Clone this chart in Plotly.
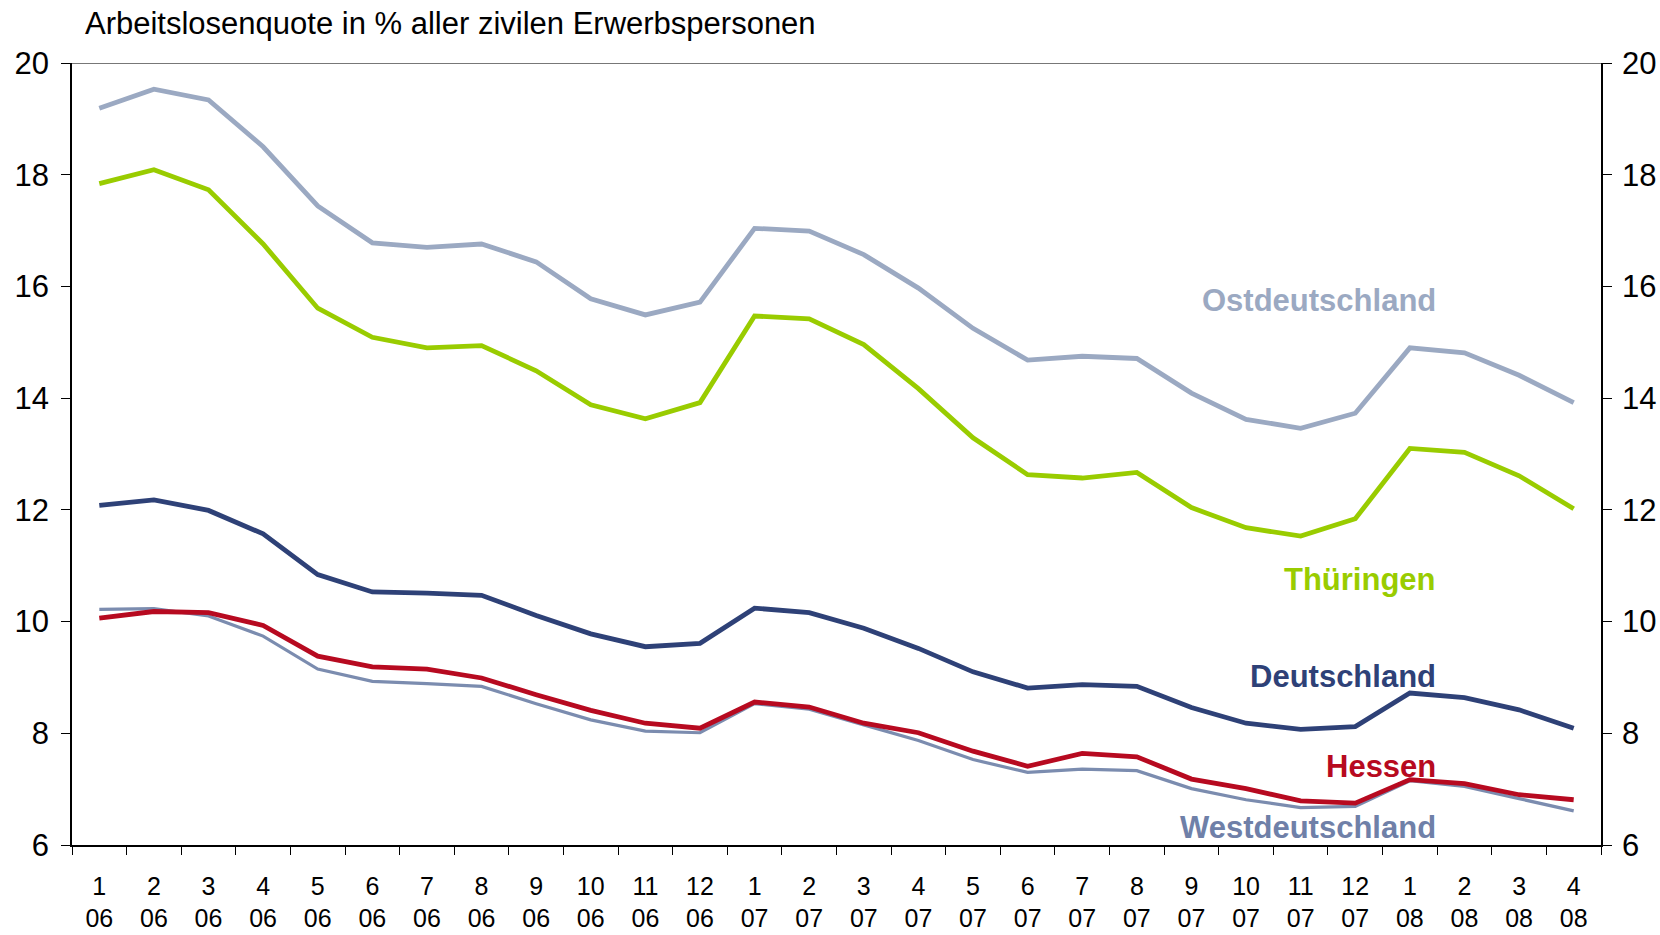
import plotly.graph_objects as go

months = [1, 2, 3, 4, 5, 6, 7, 8, 9, 10, 11, 12,
          1, 2, 3, 4, 5, 6, 7, 8, 9, 10, 11, 12,
          1, 2, 3, 4]
years = ["06"] * 12 + ["07"] * 12 + ["08"] * 4
labels = [f"{m}<br>{y}" for m, y in zip(months, years)]

ostdeutschland = [19.19, 19.53, 19.34, 18.50, 17.44, 16.78, 16.70, 16.76, 16.44, 15.78,
                  15.49, 15.72, 17.04, 16.99, 16.57, 15.97, 15.25, 14.68, 14.75, 14.71,
                  14.09, 13.62, 13.46, 13.73, 14.90, 14.81, 14.41, 13.92]
thueringen = [17.84, 18.09, 17.73, 16.76, 15.61, 15.09, 14.90, 14.94, 14.49, 13.88,
              13.63, 13.92, 15.47, 15.42, 14.96, 14.17, 13.29, 12.63, 12.57, 12.67,
              12.04, 11.68, 11.53, 11.84, 13.10, 13.03, 12.61, 12.02]
deutschland = [12.08, 12.18, 11.99, 11.57, 10.84, 10.53, 10.51, 10.47, 10.11, 9.78,
               9.55, 9.61, 10.24, 10.16, 9.88, 9.52, 9.10, 8.81, 8.87, 8.84,
               8.46, 8.18, 8.07, 8.12, 8.72, 8.64, 8.42, 8.09]
hessen = [10.06, 10.18, 10.16, 9.93, 9.38, 9.19, 9.15, 8.99, 8.69, 8.41,
          8.18, 8.09, 8.56, 8.47, 8.18, 8.01, 7.68, 7.41, 7.64, 7.58,
          7.18, 7.01, 6.79, 6.75, 7.17, 7.10, 6.90, 6.81]
westdeutschland = [10.22, 10.23, 10.10, 9.74, 9.15, 8.93, 8.89, 8.84, 8.53, 8.24,
                   8.04, 8.01, 8.53, 8.43, 8.15, 7.87, 7.53, 7.30, 7.36, 7.33,
                   7.01, 6.81, 6.67, 6.69, 7.15, 7.05, 6.83, 6.61]

y_ticks = [6, 8, 10, 12, 14, 16, 18, 20]

series = [
    ("Westdeutschland", westdeutschland, "#7B8CAF", 3.2),
    ("Hessen", hessen, "#B70A20", 4.8),
    ("Deutschland", deutschland, "#2E4177", 4.8),
    ("Thüringen", thueringen, "#99CC00", 4.8),
    ("Ostdeutschland", ostdeutschland, "#9BA9C2", 4.8),
]

label_pos = {
    "Ostdeutschland": (15.75, "#9BA9C2"),
    "Thüringen": (10.75, "#99CC00"),
    "Deutschland": (9.02, "#2E4177"),
    "Hessen": (7.40, "#B70A20"),
    "Westdeutschland": (6.31, "#6F80A8"),
}

fig = go.Figure()
for name, vals, color, w in series:
    fig.add_trace(go.Scatter(x=labels, y=vals, mode="lines", name=name,
                             line=dict(color=color, width=w), showlegend=False))
fig.add_trace(go.Scatter(x=labels, y=[None] * len(labels), yaxis="y2",
                         mode="lines", showlegend=False, hoverinfo="skip"))

font_family = "Liberation Sans, Arial, sans-serif"
for name, (yv, color) in label_pos.items():
    fig.add_annotation(x=24.52, y=yv, xref="x", yref="y", text=f"<b>{name}</b>",
                       showarrow=False, xanchor="right", yanchor="middle",
                       font=dict(family=font_family, size=31, color=color))

fig.update_layout(
    width=1660, height=935,
    margin=dict(l=72, r=59, t=63, b=90, autoexpand=False),
    paper_bgcolor="white", plot_bgcolor="white",
    font=dict(family=font_family, size=25, color="black"),
    title=dict(text="Arbeitslosenquote in % aller zivilen Erwerbspersonen",
               x=85 / 1660, xanchor="left", xref="container",
               y=1 - 23 / 935, yanchor="middle", yref="container",
               font=dict(family=font_family, size=31, color="black")),
    xaxis=dict(type="category", tickson="boundaries", ticks="outside", ticklen=8,
               tickcolor="black", showline=True, linecolor="black", linewidth=1.5,
               showgrid=False, zeroline=False, range=[-0.5, 27.5],
               tickfont=dict(size=25), ticklabelstandoff=18, automargin=False),
    yaxis=dict(range=[6, 20], tickvals=y_ticks,
               ticks="outside", ticklen=9, tickcolor="black", showline=True,
               linecolor="black", linewidth=1.5, showgrid=False, zeroline=False,
               tickfont=dict(size=31), ticklabelstandoff=6, automargin=False),
    yaxis2=dict(range=[6, 20], tickvals=y_ticks,
                overlaying="y", side="right", ticks="outside", ticklen=9,
                tickcolor="black", showline=True, linecolor="black", linewidth=1.5,
                showgrid=False, zeroline=False, tickfont=dict(size=31),
                ticklabelstandoff=4, automargin=False),
)

fig.add_shape(type="line", xref="paper", yref="y", x0=0, x1=1, y0=20, y1=20,
              line=dict(color="#777777", width=2))

fig.write_html("out.html", config={"displayModeBar": False},
               post_script="document.body.style.margin='0';")
